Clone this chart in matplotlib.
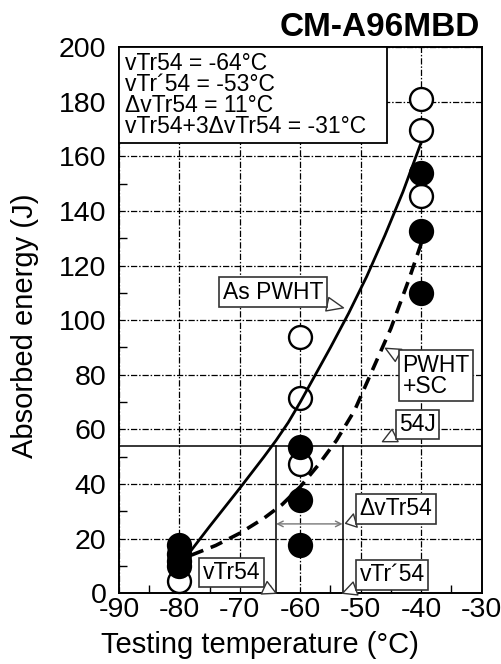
import matplotlib
matplotlib.use("Agg")
import matplotlib.pyplot as plt
from matplotlib.patches import Rectangle
from matplotlib.ticker import MultipleLocator

plt.rcParams['font.family'] = ['Liberation Sans', 'DejaVu Sans']

# measured Charpy points, per test temperature
temps = [-80, -60, -40]
as_pwht = [[4.5], [94, 71.5, 47.5], [181, 169.5, 145.5]]
pwht_sc = [[17.5, 14.5, 12, 10], [53.5, 34, 17.5], [154, 132.5, 110]]

# transition curves
curve_t_as = [-79, -75, -70, -66, -64, -62, -60, -58, -55, -52, -49, -46, -43, -40]
curve_j_as = [13, 24.5, 38.5, 50, 56, 62.5, 70, 78, 90, 102.5, 116, 131, 147, 165]
curve_t_sc = [-78, -74, -70, -66, -63, -60, -57, -54, -51, -48, -45, -42, -40]
curve_j_sc = [14, 17.5, 22, 27.5, 32.5, 39, 47, 56, 67, 82, 97, 115, 128]

vtr54 = -64
vtr54_sc = -53
level_54 = 54

info_lines = ["vTr54 = -64°C", "vTr´54 = -53°C", "ΔvTr54 = 11°C",
              "vTr54+3ΔvTr54 = -31°C"]

fig = plt.figure(figsize=(5.02, 6.64), dpi=100)
ax = fig.add_axes([0.2371, 0.1065, 0.7221, 0.8227])

# data points
for t, opens, fills in zip(temps, as_pwht, pwht_sc):
    ax.plot([t] * len(opens), opens, 'o', ms=16.5, mfc='white', mec='black',
            mew=1.7, zorder=3, clip_on=False)
    ax.plot([t] * len(fills), fills, 'o', ms=16.5, mfc='black', mec='black',
            mew=1.7, zorder=4, clip_on=False)

ax.plot(curve_t_as, curve_j_as, '-', color='black', lw=2.0, zorder=5)
ax.plot(curve_t_sc, curve_j_sc, color='black', lw=2.6, zorder=5,
        dashes=(3.5, 2.2))

# 54 J level and transition temperatures
ax.axhline(level_54, color='black', lw=1.1, zorder=2)
ax.plot([vtr54, vtr54], [0, level_54], color='black', lw=1.1, zorder=2)
ax.plot([vtr54_sc, vtr54_sc], [0, level_54], color='black', lw=1.1, zorder=2)
ax.annotate("", xy=(vtr54_sc, 25.4), xytext=(vtr54, 25.4),
            arrowprops=dict(arrowstyle='<->', color='#777777', lw=1.0,
                            shrinkA=0, shrinkB=0), zorder=6)

ax.set_xlim(-90, -30)
ax.set_ylim(0, 200)
ax.xaxis.set_major_locator(MultipleLocator(10))
ax.xaxis.set_minor_locator(MultipleLocator(5))
ax.yaxis.set_major_locator(MultipleLocator(20))
ax.yaxis.set_minor_locator(MultipleLocator(10))
ax.tick_params(which='both', direction='in', top=False, right=False)
ax.tick_params(which='major', length=0)
ax.tick_params(which='minor', length=6, width=1)
ax.tick_params(axis='y', which='major', labelsize=20.5, pad=9)
ax.tick_params(axis='x', which='major', labelsize=20.5, pad=3)
ax.set_xticks(range(-90, -29, 10))
ax.set_xticklabels([str(v) for v in range(-90, -29, 10)])

ax.grid(True, which='major', color='black', lw=0.9,
        linestyle=(0, (5, 1.5, 1.2, 1.5)), zorder=1)
for s in ax.spines.values():
    s.set_linewidth(1.4)

ax.set_xlabel("Testing temperature (°C)", fontsize=21, va='center')
ax.xaxis.set_label_coords(0.389, -0.095)
ax.set_ylabel("Absorbed energy (J)", fontsize=21, va='center')
ax.yaxis.set_label_coords(-0.259, 0.489)

# info box in the upper left corner
ax.add_patch(Rectangle((0, 0.824), 0.739, 0.176, transform=ax.transAxes,
                       fc='white', ec='black', lw=1.3, zorder=6,
                       clip_on=False))
ax.text(0.017, 0.99, "\n".join(info_lines), transform=ax.transAxes,
        fontsize=16.5, va='top', ha='left', linespacing=0.88, zorder=7)

# callout labels
callouts = [
    ("As PWHT", (-52.85, 104.5), (-64.5, 110.3)),
    ("PWHT\n+SC", (-45.9, 89.7), (-37.5, 79.6)),
    ("54J", (-46.4, 55.5), (-40.6, 61.8)),
    ("ΔvTr54", (-52.5, 25.6), (-44.2, 30.9)),
    ("vTr54", (-64, 0), (-71.4, 7.6)),
    ("vTr´54", (-53, 0), (-44.8, 6.7)),
]
for label, xy, xyt in callouts:
    ax.annotate(label, xy=xy, xytext=xyt, ha='center', va='center',
                multialignment='left',
                fontsize=16.5, linespacing=0.9, zorder=8,
                bbox=dict(boxstyle='square,pad=0.15', fc='white',
                          ec='#333333', lw=1.2),
                arrowprops=dict(arrowstyle='wedge,tail_width=0.6,shrink_factor=0.5',
                                fc='white', ec='#333333', lw=1.0,
                                shrinkA=0, shrinkB=0))

fig.text(0.956, 0.9586, "CM-A96MBD", ha='right', va='center',
         fontsize=24, fontweight='bold')

fig.savefig("out.png", dpi=100)
